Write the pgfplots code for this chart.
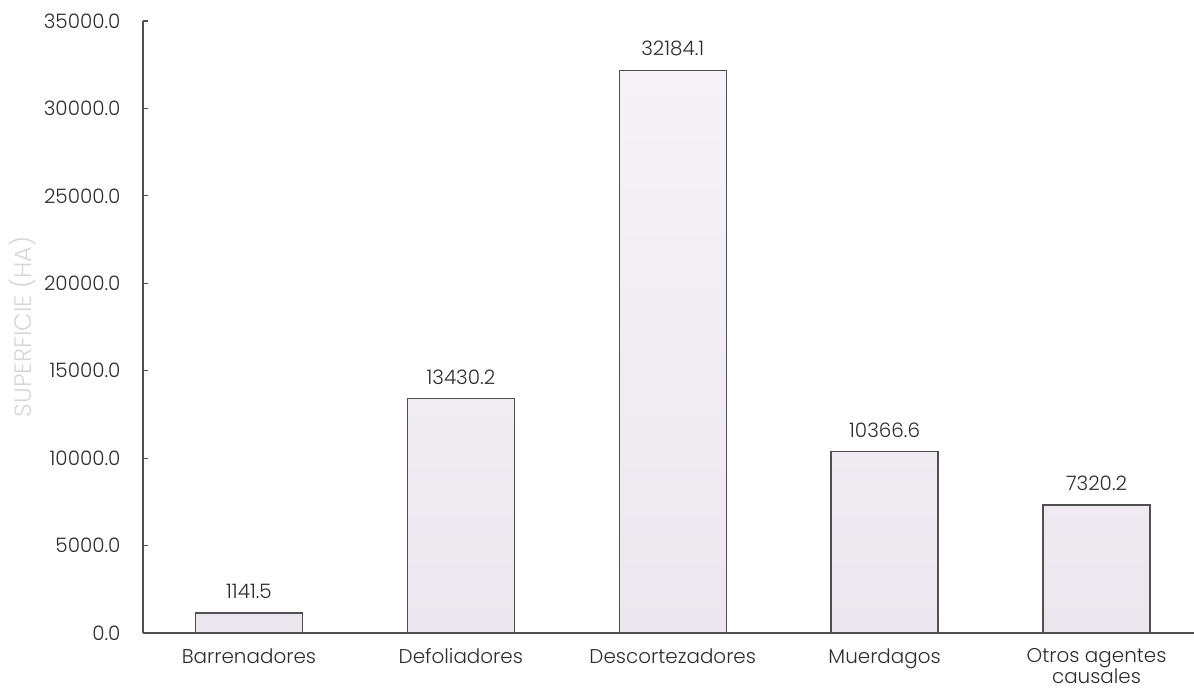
\documentclass[border=0pt]{standalone}
\usepackage{fontspec}
\setmainfont{Poppins}[UprightFont=* Light]
\usepackage{pgfplots}
\pgfplotsset{compat=1.18}
\definecolor{txt}{RGB}{45,45,45}
\definecolor{axln}{RGB}{80,80,80}
\definecolor{ylab}{RGB}{215,215,215}
\definecolor{bartop}{RGB}{245,243,247}
\definecolor{barbot}{RGB}{236,231,238}
\begin{document}
\begin{tikzpicture}
\begin{axis}[
  scale only axis,
  width=1051bp, height=612bp,
  at={(0,0)}, anchor=south west,
  ybar, bar width=107bp,
  xmin=-0.5, xmax=4.46,
  ymin=0, ymax=35000,
  ytick={0,5000,...,35000},
  xtick=data,
  xticklabels={Barrenadores,Defoliadores,Descortezadores,Muerdagos,{Otros agentes\\causales}},
  xticklabel style={align=center, font=\fontsize{20}{20.5}\selectfont, text=txt, yshift=-12bp},
  yticklabel style={font=\fontsize{20}{22}\selectfont, text=txt, xshift=-19bp},
  /pgf/number format/assume math mode=true,
  yticklabel={\pgfmathprintnumber[fixed,precision=1,zerofill,1000 sep={}]{\tick}},
  scaled y ticks=false,
  axis lines*=left,
  axis line style={axln, line width=1.3bp},
  major x tick style={draw=none},
  major y tick style={axln, line width=1.2bp},
  ytick pos=left, tick align=inside, major tick length=5bp,
  ylabel={SUPERFICIE (HA)},
  every axis y label/.style={at={(axis description cs:-0.115,0.5)}, rotate=90, anchor=center,
    font=\fontsize{24}{26}\selectfont, text=ylab},
  nodes near coords,
  nodes near coords style={font=\fontsize{20}{22}\selectfont, text=txt, yshift=10bp,
    /pgf/number format/.cd, fixed, precision=1, zerofill, 1000 sep={}, assume math mode=true},
  enlarge x limits=false,
  clip=false,
]
\addplot[draw=axln, line width=1.3bp, top color=bartop, bottom color=barbot]
  coordinates {(0,1141.5) (1,13430.2) (2,32184.1) (3,10366.6) (4,7320.2)};
\end{axis}
\pgfresetboundingbox
\path (-143bp,-57bp) rectangle (1051bp,633bp);
\end{tikzpicture}
\end{document}
